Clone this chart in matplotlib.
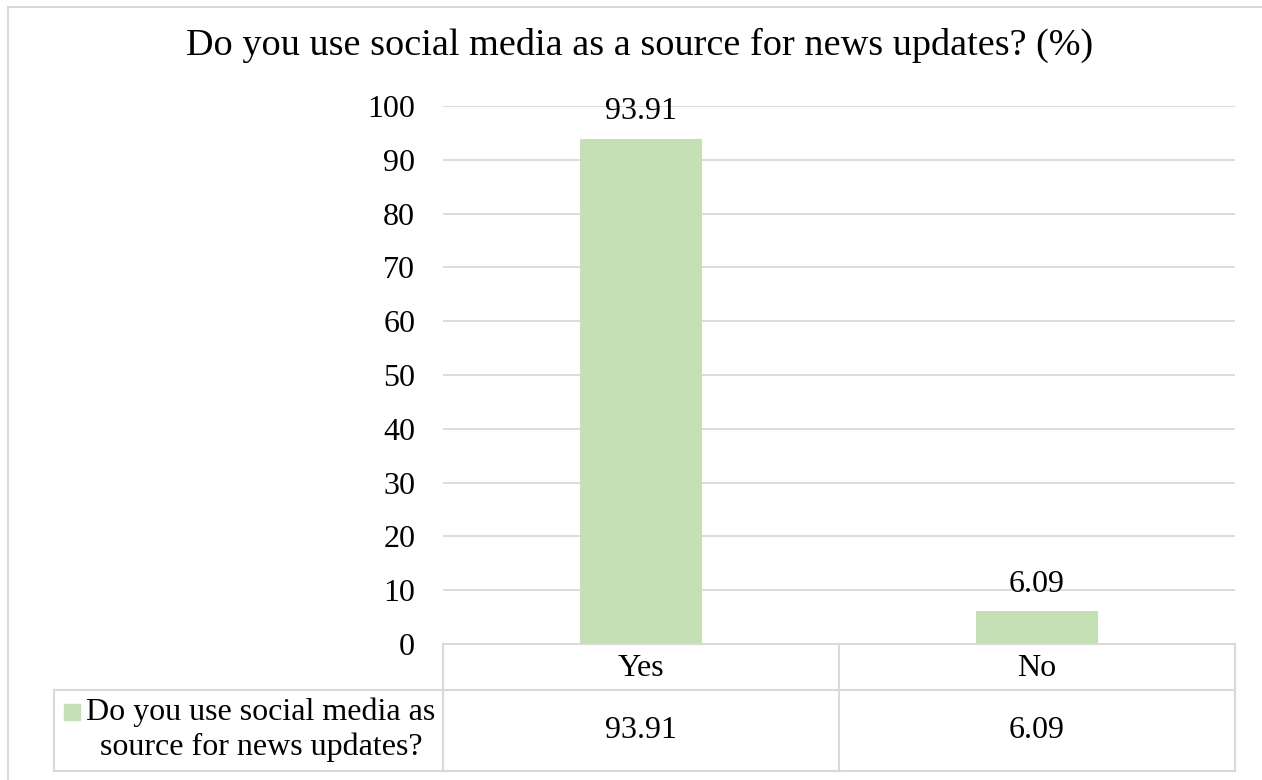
import matplotlib.pyplot as plt
import matplotlib as mp
from matplotlib.lines import Line2D
from matplotlib.patches import Rectangle

mp.rcParams['font.family'] = ['Liberation Serif', 'DejaVu Serif']

# data
categories = ['Yes', 'No']
values = [93.91, 6.09]
value_labels = ['93.91', '6.09']
series_name = 'Do you use social media as\nsource for news updates?'
title = 'Do you use social media as a source for news updates? (%)'
yticks = list(range(0, 101, 10))

W, H = 1262, 780
bar_col = '#C5E0B4'
grid_col = '#D9D9D9'
fs = 23


def fx(px):
    return px / W


def fy(py):
    return 1 - py / H


fig = plt.figure(figsize=(W / 100, H / 100), dpi=100)

# plot area in pixel coords: x 443..1235, y 106 (=100) .. 644 (=0)
x0, x1, ytop, ybot = 443, 1235, 106, 644
ax = fig.add_axes((fx(x0), fy(ybot), fx(x1 - x0), (ybot - ytop) / H))
xs = list(range(len(categories)))
ax.bar(xs, values, width=0.31, color=bar_col, zorder=2)
ax.set_xlim(-0.5, len(categories) - 0.5)
ax.set_ylim(0, 100)
ax.set_yticks(yticks)
ax.set_xticks([])
ax.yaxis.grid(True, color=grid_col, linewidth=1.3, zorder=0)
ax.set_axisbelow(True)
for s in ax.spines.values():
    s.set_visible(False)
ax.tick_params(axis='y', length=0, labelsize=fs, pad=20)
for x, v, lab in zip(xs, values, value_labels):
    ax.annotate(lab, (x, v), xytext=(0, 9), textcoords='offset points',
                ha='center', va='bottom', fontsize=fs, zorder=3)

# title
fig.text(fx(640), fy(45), title, ha='center', va='center', fontsize=27.5)

# data table under the plot
row1, row2 = 690, 771
legend_left = 54
lines = [
    ((x0, x1), (ybot, ybot)),
    ((legend_left, x1), (row1, row1)),
    ((legend_left, x1), (row2, row2)),
    ((legend_left, legend_left), (row1, row2)),
]
col_w = (x1 - x0) / len(categories)
for i in range(len(categories) + 1):
    xc = x0 + i * col_w
    lines.append(((xc, xc), (ybot, row2)))
for (xa, xb), (ya, yb) in lines:
    fig.add_artist(Line2D([fx(xa), fx(xb)], [fy(ya), fy(yb)],
                          color=grid_col, linewidth=1.5))

for i, (c, lab) in enumerate(zip(categories, value_labels)):
    xc = x0 + (i + 0.5) * col_w
    fig.text(fx(xc), fy((ybot + row1) / 2 + 1), c, ha='center', va='center', fontsize=fs)
    fig.text(fx(xc), fy((row1 + row2) / 2), lab, ha='center', va='center', fontsize=fs)

fig.add_artist(Rectangle((fx(64), fy(720)), fx(16), 16 / H, color=bar_col,
                         transform=fig.transFigure))
fig.text(fx(261), fy(730), series_name, ha='center', va='center',
         fontsize=fs, linespacing=1.25)

# outer chart border (top and left visible)
fig.add_artist(Line2D([fx(8), 1], [fy(7), fy(7)], color=grid_col, linewidth=1.5))
fig.add_artist(Line2D([fx(8), fx(8)], [fy(7), 0], color=grid_col, linewidth=1.5))

fig.savefig('out.png', dpi=100)
